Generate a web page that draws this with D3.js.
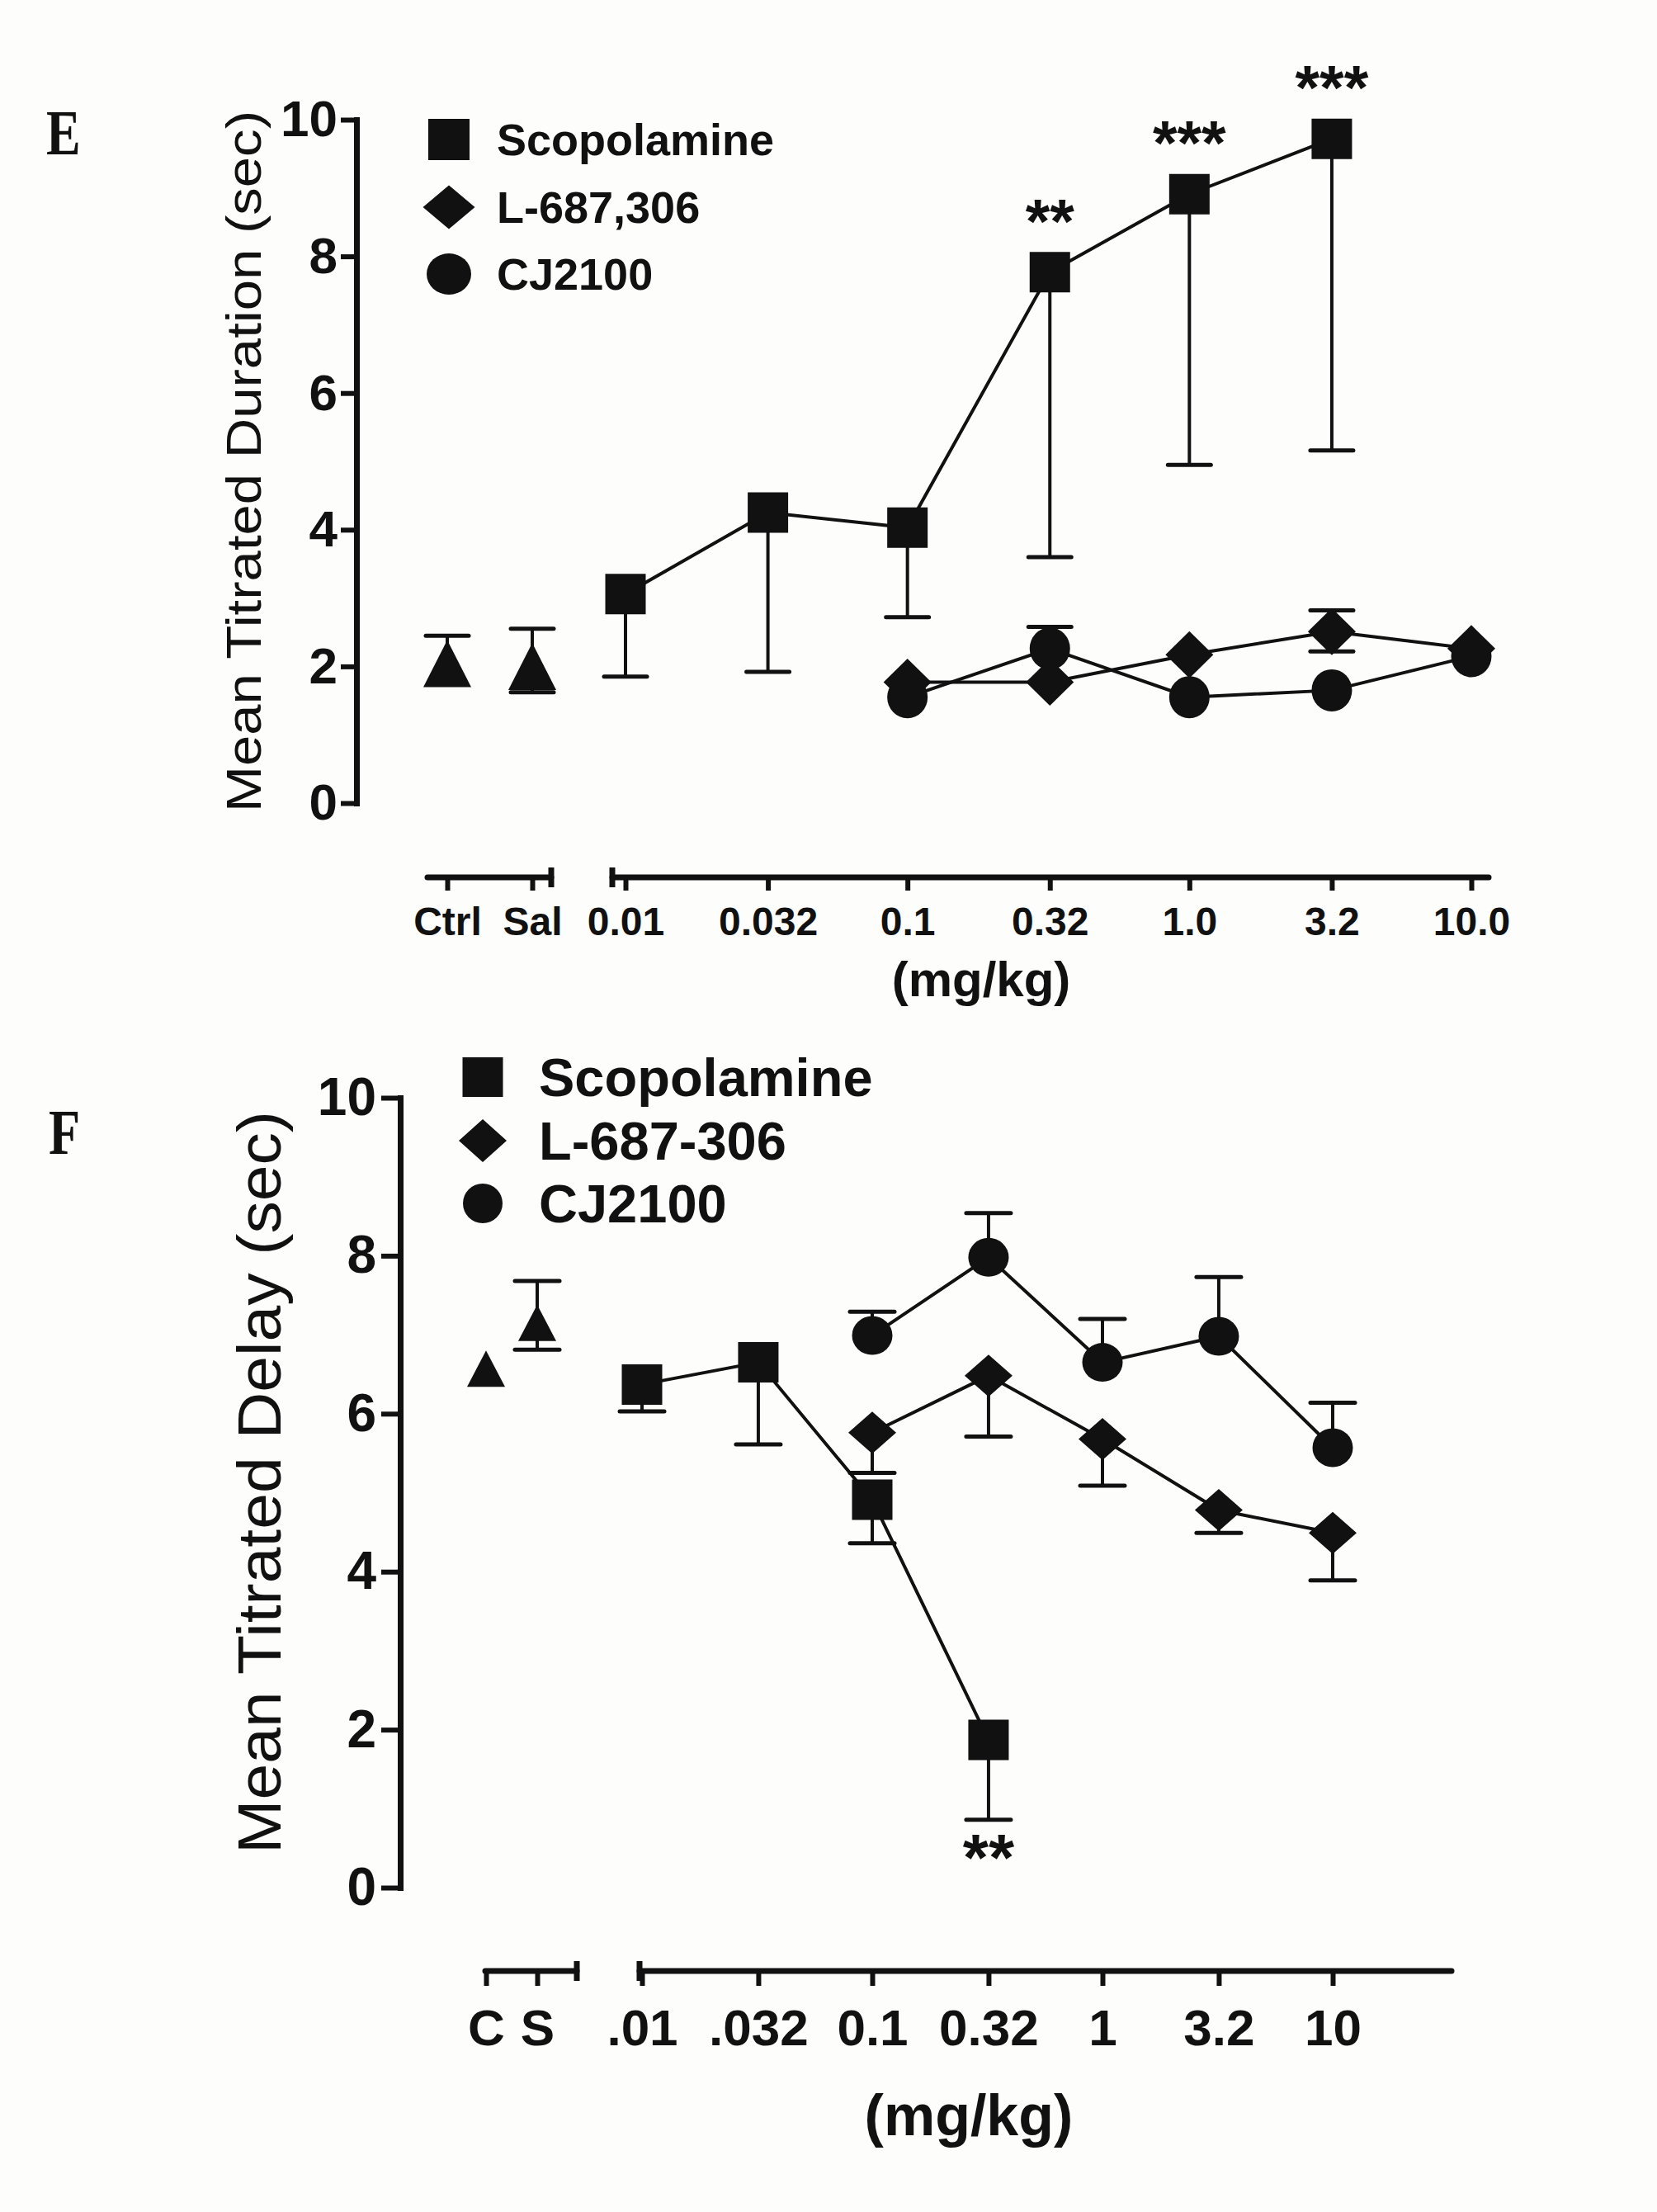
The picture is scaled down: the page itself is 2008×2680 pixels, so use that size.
<!DOCTYPE html>
<html lang="en">
<head>
<meta charset="utf-8">
<title>Mean titrated duration and delay</title>
<script src="https://cdn.jsdelivr.net/npm/d3@7"></script>
<style>
  body { margin: 0; background: #fdfdfc; }
  text { font-family: 'Liberation Sans', Arial, Helvetica, sans-serif; fill: #111; }
</style>
</head>
<body>
<script>
// ---- shared ticks / labels ----
var doseTicks   = [0.01, 0.032, 0.1, 0.32, 1.0, 3.2, 10.0];
var doseLabelsE = ["0.01", "0.032", "0.1", "0.32", "1.0", "3.2", "10.0"];
var doseLabelsF = [".01", ".032", "0.1", "0.32", "1", "3.2", "10"];
var ctrlLabelsE = ["Ctrl", "Sal"];
var ctrlLabelsF = ["C", "S"];
var namesE = ["Scopolamine", "L-687,306", "CJ2100"];
var namesF = ["Scopolamine", "L-687-306", "CJ2100"];
var yTicks = [0, 2, 4, 6, 8, 10];

var scopDoses  = [0.01, 0.032, 0.1, 0.32, 1.0, 3.2];
var scopDosesF = [0.01, 0.032, 0.1, 0.32];
var testDoses  = [0.1, 0.32, 1.0, 3.2, 10.0];

// ---- panel E : mean titrated duration (sec) ----
var scopE    = [3.06, 4.25, 4.03, 7.77, 8.91, 9.72];
var scopE_lo = [1.85, 1.92, 2.72, 3.60, 4.95, 5.16];
var scopE_sig = ["", "", "", "**", "***", "***"];
var l687E    = [1.77, 1.77, 2.17, 2.51, 2.26];
var l687E_lo = [null, null, null, 2.22, null];
var l687E_hi = [null, null, null, 2.82, null];
var cjE      = [1.55, 2.26, 1.55, 1.65, 2.15];
var cjE_hi   = [null, 2.58, null, null, null];
var ctrlE    = [2.04, 2.00];
var ctrlE_hi = [2.45, 2.55];
var ctrlE_lo = [null, 1.62];

// ---- panel F : mean titrated delay (sec) ----
var scopF    = [6.37, 6.65, 4.91, 1.87];
var scopF_lo = [6.03, 5.61, 4.36, 0.86];
var scopF_sig = ["", "", "", "**"];
var l687F    = [5.76, 6.48, 5.68, 4.78, 4.49];
var l687F_lo = [5.25, 5.71, 5.09, 4.49, 3.89];
var cjF      = [6.99, 7.98, 6.65, 6.98, 5.57];
var cjF_hi   = [7.29, 8.54, 7.20, 7.73, 6.14];
var ctrlF    = [6.57, 7.15];
var ctrlF_hi = [null, 7.68];
var ctrlF_lo = [null, 6.81];

var ink = "#111";
var W = 2008, H = 2680;

var svg = d3.select("body").append("svg")
  .attr("width", W).attr("height", H);

// marker outline centred on 0,0
function shapePath(type, w, h) {
  var p = d3.path();
  if (type === "square") {
    p.rect(-w / 2, -h / 2, w, h);
  } else if (type === "diamond") {
    p.moveTo(0, -h / 2); p.lineTo(w / 2, 0); p.lineTo(0, h / 2); p.lineTo(-w / 2, 0); p.closePath();
  } else if (type === "triangle") {
    p.moveTo(0, -h / 2); p.lineTo(w / 2, h / 2); p.lineTo(-w / 2, h / 2); p.closePath();
  } else {
    // ellipse via two arcs
    return "M" + (-w / 2) + ",0A" + (w / 2) + "," + (h / 2) + " 0 1,0 " + (w / 2) + ",0A" +
      (w / 2) + "," + (h / 2) + " 0 1,0 " + (-w / 2) + ",0Z";
  }
  return p.toString();
}

function zip(doses, mean, lo, hi, sig) {
  return doses.map(function(d, i) {
    return { dose: d, v: mean[i], lo: lo ? lo[i] : null, hi: hi ? hi[i] : null, sig: sig ? sig[i] : "" };
  });
}

function drawPanel(P) {
  var g = svg.append("g");
  var y = d3.scaleLinear().domain([0, 10]).range(P.yRange);
  var x = d3.scaleLog().domain([0.01, 10]).range(P.xRange);
  var xc = d3.scalePoint().domain(P.ctrlLabels).range(P.ctrlRange);

  // panel letter
  g.append("text")
    .attr("transform", "translate(" + P.letterX + "," + P.letterY + ") scale(0.8,1)")
    .style("font-family", "'Liberation Serif', 'Times New Roman', serif")
    .style("font-weight", "bold")
    .style("font-size", "78px")
    .text(P.letter);

  // y axis
  var yAxis = d3.axisLeft(y).tickValues(yTicks).tickSize(P.tickLen).tickSizeOuter(0).tickPadding(P.tickPad);
  var ya = g.append("g").attr("transform", "translate(" + P.axisX + ",0)").call(yAxis);
  ya.select(".domain").attr("stroke", ink).attr("stroke-width", 7).attr("stroke-linecap", "square");
  ya.selectAll(".tick line").attr("stroke", ink).attr("stroke-width", 6);
  ya.selectAll(".tick text")
    .style("font-size", P.yFont + "px").style("font-weight", "bold")
    .style("font-family", "'Liberation Sans', Arial, sans-serif").attr("fill", ink);

  g.append("text")
    .attr("transform", "translate(" + P.ylabelX + "," + P.ylabelY + ") rotate(-90)")
    .attr("text-anchor", "middle")
    .attr("dominant-baseline", "central")
    .attr("textLength", P.ylabelLen)
    .attr("lengthAdjust", "spacingAndGlyphs")
    .style("font-size", P.ylabelFont + "px")
    .text(P.ylabel);

  // x axis: control segment + dose segment
  var xa = g.append("g").attr("transform", "translate(0," + P.axisY + ")");
  xa.append("g")
    .call(d3.axisBottom(xc).tickSize(P.xTickLen).tickSizeOuter(0).tickPadding(6))
    .call(function(s) { s.select(".domain").remove(); });
  xa.append("g")
    .call(d3.axisBottom(x).tickValues(doseTicks)
      .tickFormat(function(d, i) { return P.doseLabels[i]; })
      .tickSize(P.xTickLen).tickSizeOuter(0).tickPadding(6))
    .call(function(s) { s.select(".domain").remove(); });
  xa.selectAll(".tick line").attr("stroke", ink).attr("stroke-width", 6);
  xa.selectAll(".tick text")
    .attr("dy", null).attr("y", P.xLabelDy)
    .style("font-size", P.xFont + "px").style("font-weight", "bold")
    .style("font-family", "'Liberation Sans', Arial, sans-serif").attr("fill", ink);
  [P.leftSeg, P.mainSeg].forEach(function(seg) {
    xa.append("line").attr("x1", seg[0]).attr("x2", seg[1]).attr("y1", 0).attr("y2", 0)
      .attr("stroke", ink).attr("stroke-width", 7).attr("stroke-linecap", "round");
  });
  xa.append("line").attr("x1", P.leftSeg[1]).attr("x2", P.leftSeg[1])
    .attr("y1", -12).attr("y2", 12).attr("stroke", ink).attr("stroke-width", 7);
  xa.append("line").attr("x1", P.mainSeg[0]).attr("x2", P.mainSeg[0])
    .attr("y1", -12).attr("y2", 12).attr("stroke", ink).attr("stroke-width", 7);

  g.append("text")
    .attr("x", P.unitX).attr("y", P.unitY)
    .attr("text-anchor", "middle")
    .style("font-size", P.unitFont + "px").style("font-weight", "bold")
    .text("(mg/kg)");

  // data series
  var plot = g.append("g");
  var line = d3.line().x(function(d) { return x(d.dose); }).y(function(d) { return y(d.v); });

  P.series.forEach(function(s) {
    plot.append("path").datum(s.pts).attr("d", line)
      .attr("fill", "none").attr("stroke", ink).attr("stroke-width", 4);
  });

  function errBars(pts, px) {
    pts.forEach(function(d) {
      ["lo", "hi"].forEach(function(k) {
        if (d[k] == null) return;
        var cx = px(d), y0 = y(d.v), y1 = y(d[k]);
        plot.append("line").attr("x1", cx).attr("x2", cx).attr("y1", y0).attr("y2", y1)
          .attr("stroke", ink).attr("stroke-width", 4);
        plot.append("line").attr("x1", cx - P.capW / 2).attr("x2", cx + P.capW / 2)
          .attr("y1", y1).attr("y2", y1)
          .attr("stroke", ink).attr("stroke-width", 5).attr("stroke-linecap", "round");
      });
    });
  }

  var ctrlPts = P.ctrl.map(function(d, i) { d.label = P.ctrlLabels[i]; return d; });
  errBars(ctrlPts, function(d) { return xc(d.label); });
  P.series.forEach(function(s) { errBars(s.pts, function(d) { return x(d.dose); }); });

  P.series.slice().reverse().forEach(function(s) {
    var m = P.marker[s.shape];
    plot.selectAll(null).data(s.pts).enter().append("path")
      .attr("d", shapePath(s.shape, m[0], m[1]))
      .attr("transform", function(d) { return "translate(" + x(d.dose) + "," + y(d.v) + ")"; })
      .attr("fill", ink);
  });
  var tm = P.marker.triangle;
  plot.selectAll(null).data(ctrlPts).enter().append("path")
    .attr("d", shapePath("triangle", tm[0], tm[1]))
    .attr("transform", function(d) { return "translate(" + xc(d.label) + "," + y(d.v) + ")"; })
    .attr("fill", ink);

  // significance stars
  var sig = P.series[0].pts.filter(function(d) { return d.sig; });
  plot.selectAll(null).data(sig).enter().append("text")
    .attr("x", function(d) { return x(d.dose); })
    .attr("y", function(d) { return P.sigBelow ? y(d.lo) + P.sigOffset : y(d.v) + P.sigOffset; })
    .attr("text-anchor", "middle")
    .style("font-size", P.sigFont + "px").style("font-weight", "bold")
    .text(function(d) { return d.sig; });

  // legend
  var lg = g.append("g");
  P.legendNames.forEach(function(name, i) {
    var shp = ["square", "diamond", "circle"][i];
    var m = P.legend.sizes[i];
    lg.append("path").attr("d", shapePath(shp, m[0], m[1]))
      .attr("transform", "translate(" + P.legend.x + "," + P.legend.ys[i] + ")")
      .attr("fill", ink);
    lg.append("text").attr("x", P.legend.textX).attr("y", P.legend.ys[i])
      .attr("dominant-baseline", "central")
      .style("font-size", P.legend.font + "px").style("font-weight", "bold")
      .text(name);
  });
}

drawPanel({
  letter: "E", letterX: 56, letterY: 187,
  yRange: [973, 145], axisX: 432, tickLen: 19, tickPad: 4, yFont: 62,
  xRange: [758, 1783], ctrlRange: [542, 645], ctrlLabels: ctrlLabelsE, doseLabels: doseLabelsE,
  axisY: 1063, xTickLen: 16, xFont: 48, xLabelDy: 70,
  leftSeg: [518, 668], mainSeg: [742, 1804],
  unitX: 1189, unitY: 1207, unitFont: 60,
  ylabel: "Mean Titrated Duration (sec)", ylabelX: 295, ylabelY: 559, ylabelFont: 60, ylabelLen: 850,
  capW: 52, sigFont: 76, sigOffset: -36, sigBelow: false,
  marker: { square: [49, 49], diamond: [58, 57], circle: [49, 51], triangle: [58, 57] },
  legendNames: namesE,
  legend: { x: 544, ys: [169, 251, 332], textX: 602, font: 54, sizes: [[50, 50], [63, 53], [54, 50]] },
  ctrl: zip(ctrlLabelsE, ctrlE, ctrlE_lo, ctrlE_hi),
  series: [
    { shape: "square",  pts: zip(scopDoses, scopE, scopE_lo, null, scopE_sig) },
    { shape: "diamond", pts: zip(testDoses, l687E, l687E_lo, l687E_hi) },
    { shape: "circle",  pts: zip(testDoses, cjE, null, cjE_hi) }
  ]
});

drawPanel({
  letter: "F", letterX: 59, letterY: 1398,
  yRange: [2287, 1330], axisX: 485, tickLen: 23, tickPad: 6, yFont: 64,
  xRange: [778, 1615], ctrlRange: [589, 651], ctrlLabels: ctrlLabelsF, doseLabels: doseLabelsF,
  axisY: 2388, xTickLen: 18, xFont: 62, xLabelDy: 90,
  leftSeg: [588, 699], mainSeg: [775, 1759],
  unitX: 1174, unitY: 2587, unitFont: 70,
  ylabel: "Mean Titrated Delay (sec)", ylabelX: 314, ylabelY: 1796, ylabelFont: 75, ylabelLen: 900,
  capW: 54, sigFont: 80, sigOffset: 73, sigBelow: true,
  marker: { square: [49, 49], diamond: [58, 51], circle: [49, 47], triangle: [46, 44] },
  legendNames: namesF,
  legend: { x: 585, ys: [1305, 1382, 1458], textX: 653, font: 65, sizes: [[49, 48], [58, 52], [48, 48]] },
  ctrl: zip(ctrlLabelsF, ctrlF, ctrlF_lo, ctrlF_hi),
  series: [
    { shape: "square",  pts: zip(scopDosesF, scopF, scopF_lo, null, scopF_sig) },
    { shape: "diamond", pts: zip(testDoses, l687F, l687F_lo) },
    { shape: "circle",  pts: zip(testDoses, cjF, null, cjF_hi) }
  ]
});
</script>
</body>
</html>
